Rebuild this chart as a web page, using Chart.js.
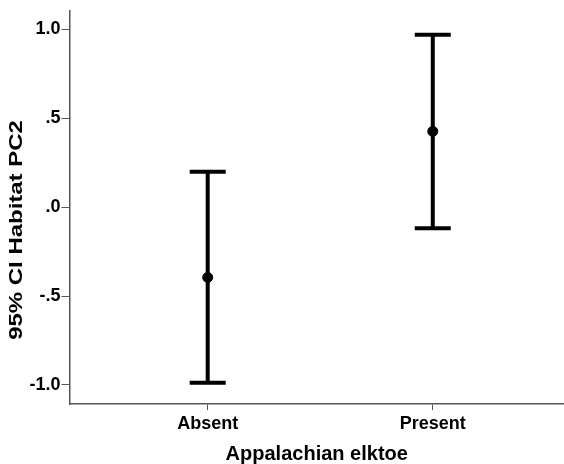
<!DOCTYPE html>
<html>
<head>
<meta charset="utf-8">
<script src="https://cdn.jsdelivr.net/npm/chart.js@4.4.1/dist/chart.umd.min.js"></script>
<style>
  html, body { margin: 0; padding: 0; background: #fff; }
  #wrap { width: 564px; height: 464px; }
</style>
</head>
<body>
<div id="wrap"><canvas id="chart"></canvas></div>
<script>
// data
const categories = ['Absent', 'Present'];
const means = [-0.395, 0.426];
const lowerCI = [-0.988, -0.118];
const upperCI = [0.199, 0.970];
const yTicks = [-1, -0.5, 0, 0.5, 1];
const yTickLabels = ['-1.0', '-.5', '.0', '.5', '1.0'];
const yTitle = '95% CI Habitat PC2';
const xTitle = 'Appalachian elktoe';

const catPos = categories.map((c, i) => i + 1);

// draws the CI whiskers and caps from the arrays above
const errorBars = {
    id: 'errorBars',
    afterDatasetsDraw(chart) {
        const ctx = chart.ctx;
        const x = chart.scales.x;
        const y = chart.scales.y;
        ctx.save();
        ctx.strokeStyle = '#000';
        ctx.lineWidth = 4;
        ctx.lineCap = 'butt';
        catPos.forEach((p, i) => {
            const px = x.getPixelForValue(p);
            const top = y.getPixelForValue(upperCI[i]);
            const bot = y.getPixelForValue(lowerCI[i]);
            ctx.beginPath();
            ctx.moveTo(px, top);
            ctx.lineTo(px, bot);
            ctx.moveTo(px - 18, top);
            ctx.lineTo(px + 18, top);
            ctx.moveTo(px - 18, bot);
            ctx.lineTo(px + 18, bot);
            ctx.stroke();
        });
        ctx.restore();
    }
};

// the y title in the reference is stretched along its length
const yTitlePlugin = {
    id: 'yTitlePlugin',
    afterDraw(chart) {
        const ctx = chart.ctx;
        ctx.save();
        ctx.translate(17, 230);
        ctx.rotate(-Math.PI / 2);
        ctx.scale(1.26, 1);
        ctx.font = 'bold 19px "Liberation Sans"';
        ctx.fillStyle = '#000';
        ctx.textAlign = 'center';
        ctx.textBaseline = 'middle';
        ctx.fillText(yTitle, 0, 0);
        ctx.restore();
    }
};

new Chart(document.getElementById('chart'), {
    type: 'scatter',
    data: {
        datasets: [{
            data: catPos.map((p, i) => ({ x: p, y: means[i] })),
            backgroundColor: '#000',
            borderColor: '#000',
            pointRadius: 5,
            pointHoverRadius: 5
        }]
    },
    options: {
        responsive: true,
        maintainAspectRatio: false,
        animation: false,
        layout: { autoPadding: false, padding: { top: 11, right: 0, left: 0, bottom: 0 } },
        plugins: {
            legend: { display: false },
            tooltip: { enabled: false }
        },
        scales: {
            x: {
                type: 'linear',
                min: 0.386,
                max: 2.583,
                afterBuildTicks: (scale) => {
                    scale.ticks = catPos.map(v => ({ value: v }));
                },
                afterFit: (scale) => {
                    scale.height = 60;
                    scale.paddingLeft = 0;
                    scale.paddingRight = 0;
                },
                ticks: {
                    color: '#000',
                    padding: 3,
                    font: { family: 'Liberation Sans', size: 18, weight: 'bold' },
                    callback: (v) => categories[v - 1]
                },
                grid: { drawOnChartArea: false, drawTicks: true, tickLength: 6, color: '#555' },
                border: { display: true, color: '#555', width: 1.5 },
                title: {
                    display: true,
                    text: xTitle,
                    color: '#000',
                    font: { family: 'Liberation Sans', size: 20, weight: 'bold', lineHeight: 1 },
                    padding: { top: 0, bottom: 0 }
                }
            },
            y: {
                min: -1.107,
                max: 1.103,
                afterBuildTicks: (scale) => {
                    scale.ticks = yTicks.map(v => ({ value: v }));
                },
                afterFit: (scale) => {
                    scale.width = 69.5;
                    scale.paddingTop = 0;
                    scale.paddingBottom = 0;
                },
                ticks: {
                    color: '#000',
                    padding: 1,
                    font: { family: 'Liberation Sans', size: 18, weight: 'bold' },
                    callback: (v) => yTickLabels[yTicks.indexOf(v)]
                },
                grid: { drawOnChartArea: false, drawTicks: true, tickLength: 8, color: '#555' },
                border: { display: true, color: '#555', width: 1.5 }
            }
        }
    },
    plugins: [errorBars, yTitlePlugin]
});
</script>
</body>
</html>
